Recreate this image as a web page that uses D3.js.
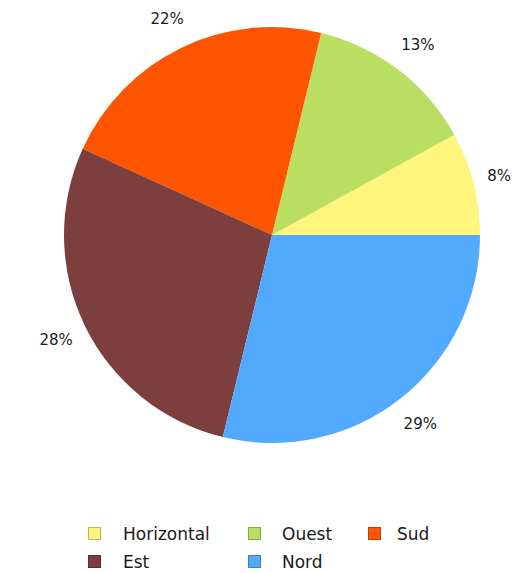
<!DOCTYPE html>
<html>
<head>
<meta charset="utf-8">
<script src="https://cdn.jsdelivr.net/npm/d3@7"></script>
<style>
  body { margin: 0; background: #fff; }
  text { font-family: "DejaVu Sans", sans-serif; fill: #1a1a1a; }
</style>
</head>
<body>
<div id="chart"></div>
<script>
// data, order = counter-clockwise from 3 o'clock
var categories = ["Horizontal", "Ouest", "Sud", "Est", "Nord"];
var values = [8, 13.2, 22, 28, 28.8];
var colors = ["#fff47c", "#bade62", "#ff5500", "#7d3e3e", "#52aaff"];
var legendOrder = ["Horizontal", "Ouest", "Sud", "Est", "Nord"];

var width = 513, height = 573;
var cx = 272, cy = 235, radius = 208, labelRadius = 240;

var svg = d3.select("#chart").append("svg")
  .attr("width", width)
  .attr("height", height);

var color = d3.scaleOrdinal().domain(categories).range(colors);

var total = d3.sum(values);
var data = categories.map(function(c, i) { return { name: c, value: values[i] }; });

// start at 3 o'clock and go counter-clockwise
var pie = d3.pie()
  .sort(null)
  .value(function(d) { return d.value; })
  .startAngle(Math.PI / 2)
  .endAngle(Math.PI / 2 - 2 * Math.PI);

var arc = d3.arc().innerRadius(0).outerRadius(radius);
var labelArc = d3.arc().innerRadius(labelRadius).outerRadius(labelRadius);

var g = svg.append("g").attr("transform", "translate(" + cx + "," + cy + ")");

var arcs = pie(data);

g.selectAll("path.slice")
  .data(arcs)
  .enter().append("path")
  .attr("class", "slice")
  .attr("d", arc)
  .attr("fill", function(d) { return color(d.data.name); });

g.selectAll("text.pct")
  .data(arcs)
  .enter().append("text")
  .attr("class", "pct")
  .attr("text-anchor", "middle")
  .attr("dy", "0.35em")
  .style("font-size", "15px")
  .text(function(d) { return Math.round(d.data.value / total * 100) + "%"; })
  .attr("transform", function(d) {
    var c = labelArc.centroid(d);
    // keep the label inside the svg on the right side
    var half = this.getComputedTextLength() / 2;
    var maxX = width - cx - half - 2;
    if (c[0] > maxX) c[0] = maxX;
    return "translate(" + c + ")";
  });

// legend, 3 columns
var colX = [88, 248, 368], rowY = [527, 555];
var legend = svg.selectAll("g.legend")
  .data(legendOrder)
  .enter().append("g")
  .attr("class", "legend")
  .attr("transform", function(d, i) {
    return "translate(" + colX[i % 3] + "," + rowY[Math.floor(i / 3)] + ")";
  });

legend.append("rect")
  .attr("x", 0.5).attr("y", 0.5)
  .attr("width", 12).attr("height", 12)
  .attr("fill", function(d) { return color(d); })
  .attr("stroke", function(d) { return d3.color(color(d)).darker(0.8); })
  .attr("stroke-width", 1);

legend.append("text")
  .attr("x", function(d, i) { return [35, 34, 29][i % 3]; })
  .attr("y", 13)
  .style("font-size", "17px")
  .text(function(d) { return d; });
</script>
</body>
</html>
